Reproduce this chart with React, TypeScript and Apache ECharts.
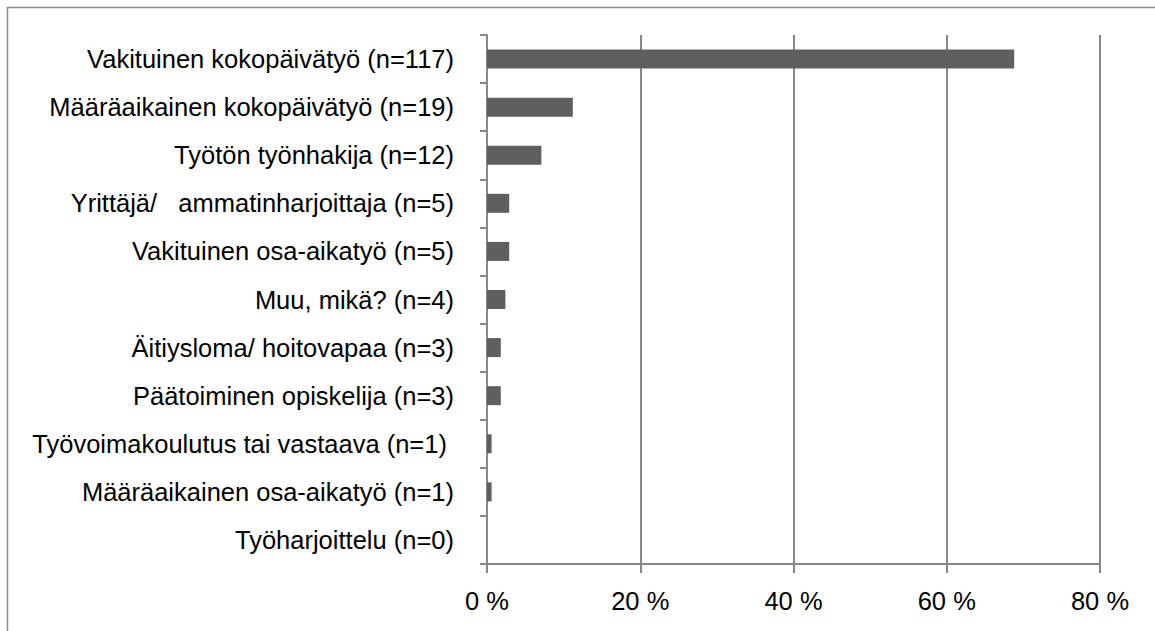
import React, { useEffect, useRef } from "react";
import * as echarts from "echarts";

const categories = [
  "Vakituinen kokopäivätyö (n=117)",
  "Määräaikainen kokopäivätyö (n=19)",
  "Työtön työnhakija (n=12)",
  "Yrittäjä/\u00a0\u00a0\u00a0ammatinharjoittaja (n=5)",
  "Vakituinen osa-aikatyö (n=5)",
  "Muu, mikä? (n=4)",
  "Äitiysloma/ hoitovapaa (n=3)",
  "Päätoiminen opiskelija (n=3)",
  "Työvoimakoulutus tai vastaava (n=1)\u00a0",
  "Määräaikainen osa-aikatyö (n=1)",
  "Työharjoittelu (n=0)",
];

const percentages = [68.8, 11.2, 7.1, 2.9, 2.9, 2.4, 1.8, 1.8, 0.6, 0.6, 0];

const xTicks = [0, 20, 40, 60, 80];

const FONT = "'Liberation Sans', Arial, sans-serif";

export default function App() {
  const ref = useRef<HTMLDivElement>(null);

  useEffect(() => {
    if (!ref.current) return;
    const chart = echarts.init(ref.current, undefined, { renderer: "svg" });
    chart.setOption({
      animation: false,
      backgroundColor: "#ffffff",
      grid: { left: 487, right: 55, top: 35, bottom: 67, containLabel: false, outerBoundsMode: "none" },
      graphic: [
        {
          type: "rect",
          shape: { x: 7.5, y: 7.5, width: 1200, height: 700 },
          style: { fill: "none", stroke: "#8c8c8c", lineWidth: 1.5 },
          silent: true,
          z: -1,
        },
      ],
      xAxis: {
        type: "value",
        min: xTicks[0],
        max: xTicks[xTicks.length - 1],
        interval: 20,
        axisLine: { show: true, lineStyle: { color: "#878787", width: 2 } },
        axisTick: { show: true, length: 9, lineStyle: { color: "#878787", width: 2 } },
        splitLine: { show: true, lineStyle: { color: "#878787", width: 2 } },
        axisLabel: {
          margin: 24,
          color: "#000000",
          fontFamily: FONT,
          fontSize: 25.5,
          formatter: (v: number) => `${v} %`,
        },
      },
      yAxis: {
        type: "category",
        data: categories,
        inverse: true,
        axisLine: { show: true, lineStyle: { color: "#878787", width: 2 } },
        axisTick: { show: true, length: 7, lineStyle: { color: "#878787", width: 2 } },
        axisLabel: {
          margin: 33,
          color: "#000000",
          fontFamily: FONT,
          fontSize: 25.5,
        },
      },
      series: [
        {
          type: "bar",
          data: percentages,
          barWidth: 19,
          itemStyle: { color: "#5f5f5f" },
        },
      ],
    });
    return () => chart.dispose();
  }, []);

  return (
    <div
      ref={ref}
      style={{ position: "fixed", left: 0, top: 0, width: 1155, height: 631, background: "#fff" }}
    />
  );
}
